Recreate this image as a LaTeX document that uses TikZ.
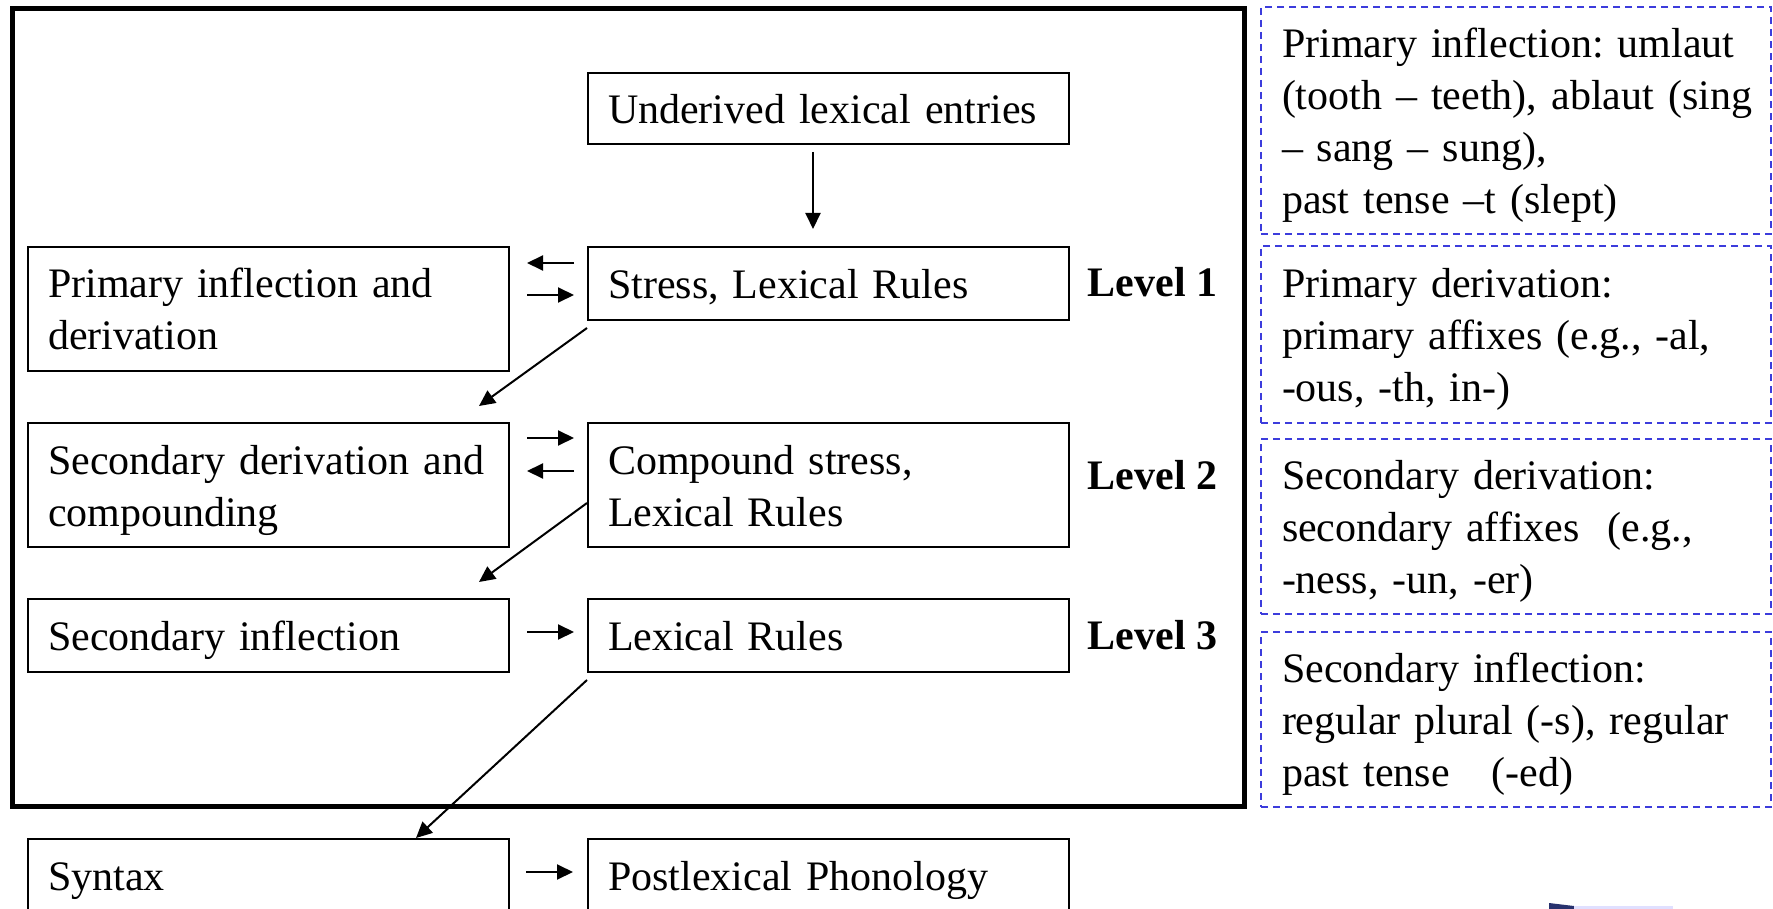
\documentclass[tikz,border=0pt]{standalone}
\usepackage{fontspec}
\setmainfont{Liberation Serif}
\usetikzlibrary{arrows.meta,calc}
\definecolor{dashblue}{RGB}{60,60,220}
\definecolor{logonavy}{RGB}{40,50,110}
\frenchspacing
\begin{document}
\begin{tikzpicture}[x=1pt,y=-1pt,
  every node/.style={font=\fontsize{42}{52}\selectfont},
  box/.style={draw,line width=2pt,inner xsep=20pt,inner ysep=0pt,text width=441pt,align=left,minimum height=#1,text height=30pt,text depth=0pt},
  box/.default=73pt,
  rbox/.style={draw=dashblue,line width=2pt,dash pattern=on 7pt off 5pt,inner xsep=21pt,inner ysep=0pt,text width=468pt,align=left,minimum height=#1,text height=30pt},
  twol/.style={text depth=52pt},
  threel/.style={text depth=104pt},
  fourl/.style={text depth=156pt},
  lvl/.style={font=\fontsize{42}{52}\selectfont\bfseries,anchor=base},
  arr/.style={line width=2pt,-{Triangle[length=16pt,width=15pt]}}]
\useasboundingbox (0,0) rectangle (1773,909);
% outer frame of the lexicon
\node[draw,line width=5pt,minimum width=1232pt,minimum height=797pt,inner sep=0pt] (lex) at (628,407.5) {};
% boxes
\node[box=71pt] (ul) at (828.5,108.5) {Underived lexical entries};
\node[box=73pt] (sl) at (828.5,283.5) {Stress, Lexical Rules};
\node[box=124pt,twol] (pi) at (268.5,309) {\mbox{Primary inflection and}\\derivation};
\node[box=124pt,twol] (sd) at (268.5,485) {\mbox{Secondary derivation and}\\compounding};
\node[box=124pt,twol] (cs) at (828.5,485) {Compound stress,\\Lexical Rules};
\node[box=73pt] (si) at (268.5,635.5) {Secondary inflection};
\node[box=73pt] (lr) at (828.5,635.5) {Lexical Rules};
\node[box=73pt] (sy) at (268.5,875.5) {Syntax};
\node[box=73pt] (pp) at (828.5,875.5) {Postlexical Phonology};
% level labels
\node[lvl] (l1) at (1152.5,297) {Level 1};
\node[lvl] (l2) at (1152.5,489) {Level 2};
\node[lvl] (l3) at (1152.5,649) {Level 3};
% right-hand notes
\node[rbox=227pt,fourl] (r1) at (1516,120.5) {\mbox{Primary inflection: umlaut}\\\mbox{(tooth – teeth), ablaut (sing}\\– sang – sung),\\past tense –t (slept)};
\node[rbox=177pt,threel] (r2) at (1516,334.5) {Primary derivation:\\\mbox{primary affixes (e.g., -al,}\\-ous, -th, in-)};
\node[rbox=175pt,threel] (r3) at (1516,526.5) {Secondary derivation:\\\mbox{secondary affixes\ \ (e.g.,}\\-ness, -un, -er)};
\node[rbox=175pt,threel] (r4) at (1516,719.5) {Secondary inflection:\\\mbox{regular plural (-s), regular}\\\mbox{past tense\ \ \ (-ed)}};
% connectors
\draw[arr] ($(ul.south)+(-15.5,7)$) -- ($(sl.north)+(-15.5,-17)$);
\draw[arr] ($(pi.east)+(64,-46)$) -- ($(pi.east)+(17,-46)$);
\draw[arr] ($(pi.east)+(17,-14)$) -- ($(pi.east)+(64,-14)$);
\draw[arr] ($(sl.south west)+(0,7)$) -- ($(sd.north east)+(-31,-16)$);
\draw[arr] ($(sd.east)+(17,-47)$) -- ($(sd.east)+(64,-47)$);
\draw[arr] ($(sd.east)+(64,-14)$) -- ($(sd.east)+(17,-14)$);
\draw[arr] ($(cs.west)+(0,18)$) -- ($(si.north east)+(-31,-16)$);
\draw[arr] ($(si.east)+(17,-3.5)$) -- ($(si.east)+(64,-3.5)$);
\draw[arr] ($(lr.south west)+(0,7)$) -- ($(sy.north east)+(-94,0)$);
\draw[arr] ($(sy.east)+(16,-3.5)$) -- ($(sy.east)+(63,-3.5)$);
% fragment of a logo at the lower edge
\fill[logonavy] (1549,903) -- (1574,906) -- (1574,910) -- (1549,910) -- cycle;
\fill[blue!12] (1574,906) rectangle (1673,910);
\end{tikzpicture}
\end{document}
